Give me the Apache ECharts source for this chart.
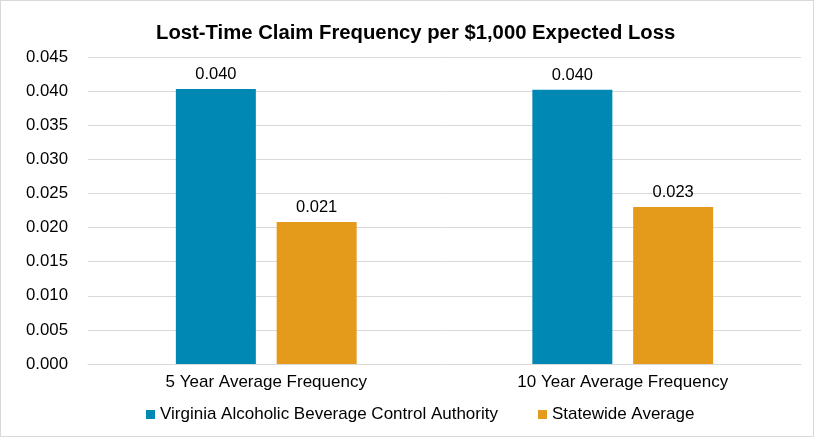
<!DOCTYPE html>
<html>
<head>
<meta charset="utf-8">
<script src="https://cdn.jsdelivr.net/npm/echarts@6/dist/echarts.min.js"></script>
<style>
  html, body { margin: 0; padding: 0; background: #fff; }
  #chart { width: 812px; height: 435px; border: 1px solid #d9d9d9; }
</style>
</head>
<body>
<div id="chart"></div>
<script>
const categories = ["5 Year Average Frequency", "10 Year Average Frequency"];
const seriesNames = ["Virginia Alcoholic Beverage Control Authority", "Statewide Average"];
const vabcValues = [0.0403, 0.0402];
const statewideValues = [0.0208, 0.0230];
const yTicks = { min: 0, max: 0.045, interval: 0.005 };

const font = "Liberation Sans, Arial, sans-serif";

const chart = echarts.init(document.getElementById("chart"));
const labelOpt = {
  show: true,
  position: "top",
  distance: 6,
  color: "#000",
  fontSize: 16.5,
  fontFamily: font,
  formatter: p => p.value.toFixed(3)
};

chart.setOption({
  animation: false,
  title: {
    text: "Lost-Time Claim Frequency per $1,000 Expected Loss",
    left: 150,
    top: 17,
    textStyle: { fontSize: 20.3, fontWeight: "bold", color: "#000", fontFamily: font }
  },
  grid: { left: 87, right: 12, top: 56, bottom: 72, containLabel: false },
  legend: {
    bottom: 8,
    left: 140,
    itemWidth: 9,
    itemHeight: 9,
    itemGap: 40,
    icon: "rect",
    textStyle: { fontSize: 17, color: "#000", fontFamily: font }
  },
  xAxis: {
    type: "category",
    data: categories,
    axisTick: { show: false },
    axisLine: { lineStyle: { color: "#d9d9d9", width: 1 } },
    axisLabel: { color: "#000", fontSize: 17, fontFamily: font, margin: 10 }
  },
  yAxis: {
    type: "value",
    min: yTicks.min,
    max: yTicks.max,
    interval: yTicks.interval,
    axisLine: { show: false },
    axisTick: { show: false },
    splitLine: { lineStyle: { color: "#d9d9d9", width: 1 } },
    axisLabel: {
      color: "#000",
      fontSize: 16.8,
      fontFamily: font,
      margin: 20,
      formatter: v => v.toFixed(3)
    }
  },
  series: [
    {
      name: seriesNames[0],
      type: "bar",
      data: vabcValues,
      barWidth: 80,
      barGap: "26%",
      itemStyle: { color: "#0088B4" },
      label: labelOpt
    },
    {
      name: seriesNames[1],
      type: "bar",
      data: statewideValues,
      barWidth: 80,
      itemStyle: { color: "#E49B1C" },
      label: labelOpt
    }
  ]
});
</script>
</body>
</html>
